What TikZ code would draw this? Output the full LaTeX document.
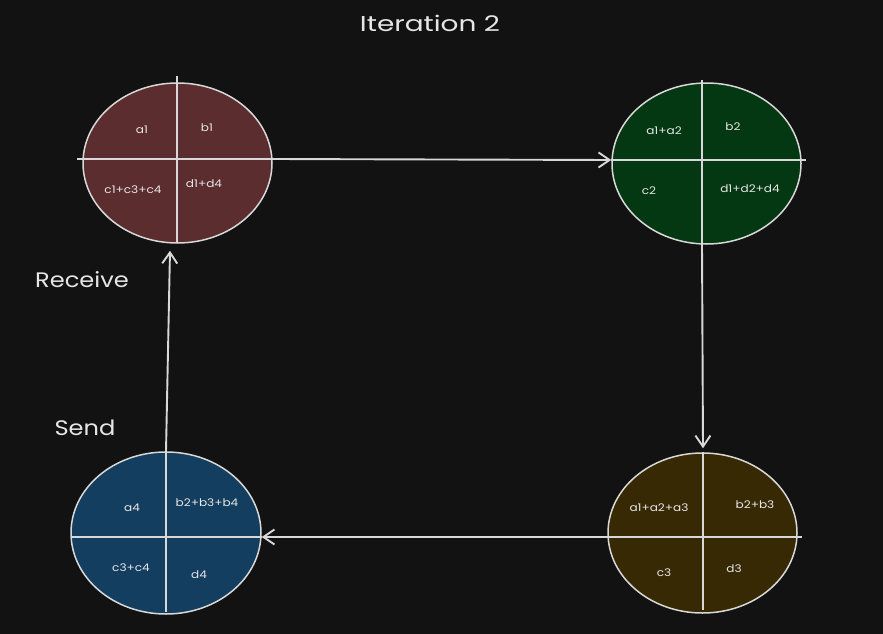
\documentclass[tikz,border=0pt]{standalone}
\usepackage{fontspec}
\newfontfamily\hand{Poppins}[FakeStretch=1.15]
\newfontfamily\handw{Poppins}[FakeStretch=1.3]
\usetikzlibrary{shapes.geometric,arrows.meta}
\definecolor{bg}{HTML}{121212}
\definecolor{ink}{HTML}{D8D8D8}
\definecolor{txt}{HTML}{E6E6E6}
\definecolor{fred}{HTML}{5C2D2E}
\definecolor{fgreen}{HTML}{043812}
\definecolor{fblue}{HTML}{143E5F}
\definecolor{folive}{HTML}{362903}
\tikzset{
  part/.style={ellipse, draw=ink, line width=1.5pt, inner sep=0pt},
  cross/.style={draw=ink, line width=1.9pt},
  arr/.style={draw=ink, line width=1.9pt, -{Straight Barb[length=11pt,width=15pt,line width=1.9pt]}},
  cell/.style={text=txt, font=\hand\fontsize{10.5}{12}\selectfont, inner sep=0pt},
  big/.style={text=txt, inner sep=0pt},
}
\begin{document}
\begin{tikzpicture}[x=1pt,y=-1pt]
\fill[bg] (0,0) rectangle (883,634);
\useasboundingbox (0,0) rectangle (883,634);

% title and side labels
\node[big, font=\handw\fontsize{21.5}{25}\selectfont] (title) at (430,23) {Iteration 2};
\node[big, font=\hand\fontsize{21}{25}\selectfont] (recv) at (82,280) {Receive};
\node[big, font=\hand\fontsize{21}{25}\selectfont] (send) at (85,428) {Send};

% ellipses
\node[part, fill=fred,   minimum width=189pt, minimum height=160pt] (tl) at (177.5,163) {};
\node[part, fill=fgreen, minimum width=189pt, minimum height=161pt] (tr) at (706.5,163.5) {};
\node[part, fill=fblue,  minimum width=190pt, minimum height=162pt] (bl) at (166,533) {};
\node[part, fill=folive, minimum width=189pt, minimum height=160pt] (br) at (702.5,533) {};

% crossing points
\coordinate (tlX) at (177,159);
\coordinate (trX) at (702,160);
\coordinate (blX) at (166,537);
\coordinate (brX) at (703,537);

% cross lines
\draw[cross] (177,76) -- (177,242);
\draw[cross] (77,159) -- (tl.east |- tlX);
\draw[cross] (702,80) -- (tr.south -| trX);
\draw[cross] (tr.west |- trX) -- (806,160);
\draw[cross] (bl.north -| blX) -- (166,612);
\draw[cross] (71,537) -- (bl.east |- blX);
\draw[cross] (br.north -| brX) -- (703,610);
\draw[cross] (br.west |- brX) -- (802,537);

% arrows
\draw[arr] (tl.east |- tlX) -- (tr.west |- trX);
\draw[arr] (tr.south -| trX) -- ([yshift=4pt]br.north -| brX);
\draw[arr] (br.west |- brX) -- (bl.east |- blX);
\draw[arr] (bl.north -| blX) -- ([xshift=-7.5pt,yshift=-7pt]tl.south);

% cell labels
\node[cell] (tla) at (142,130) {a1};
\node[cell] (tlb) at (207,128) {b1};
\node[cell] (tlc) at (133,190) {c1+c3+c4};
\node[cell] (tld) at (204,184) {d1+d4};

\node[cell] (tra) at (664,131) {a1+a2};
\node[cell] (trb) at (733,127) {b2};
\node[cell] (trc) at (649,191) {c2};
\node[cell] (trd) at (750,189) {d1+d2+d4};

\node[cell] (bla) at (132,508) {a4};
\node[cell] (blb) at (207,503) {b2+b3+b4};
\node[cell] (blc) at (131,568) {c3+c4};
\node[cell] (bld) at (199,575) {d4};

\node[cell] (bra) at (659,508) {a1+a2+a3};
\node[cell] (brb) at (755,505) {b2+b3};
\node[cell] (brc) at (664,573) {c3};
\node[cell] (brd) at (734,569) {d3};
\end{tikzpicture}
\end{document}
